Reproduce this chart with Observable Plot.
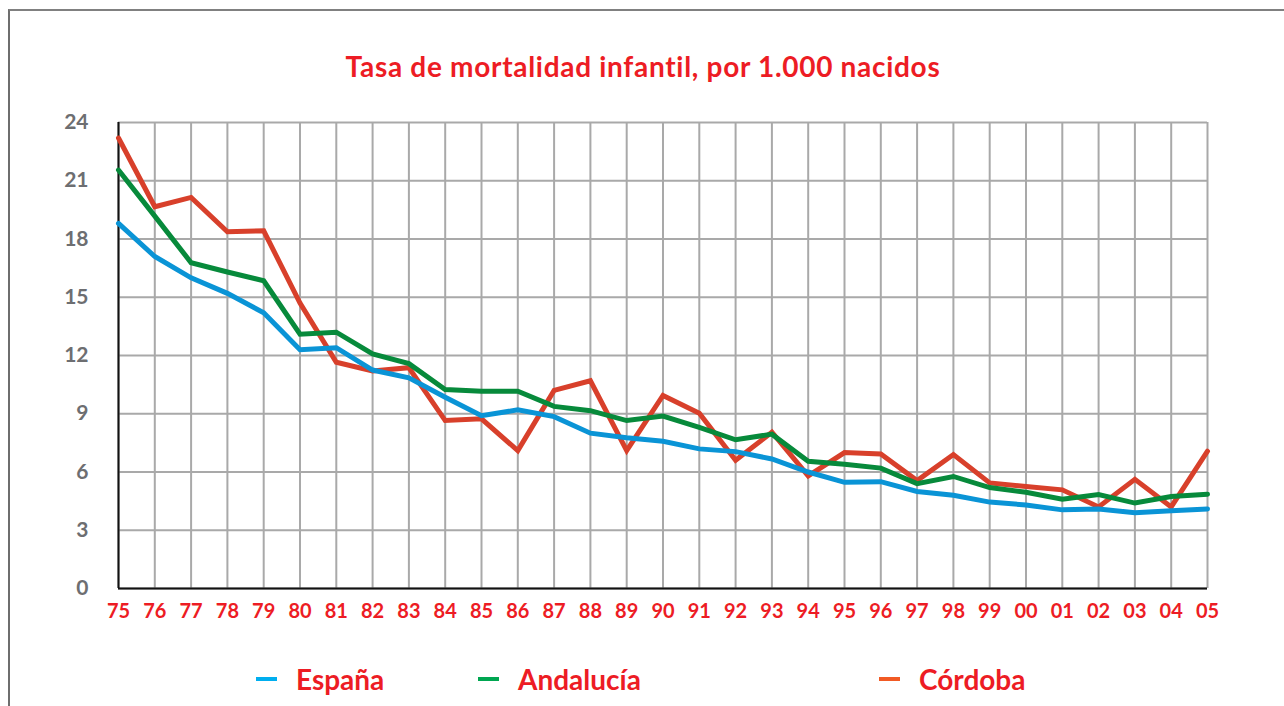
<!DOCTYPE html>
<html>
<head>
<meta charset="utf-8">
<script src="https://cdn.jsdelivr.net/npm/d3@7"></script>
<script src="https://cdn.jsdelivr.net/npm/@observablehq/plot@0.6"></script>
<style>
  html, body { margin: 0; padding: 0; background: #fff; }
  #page { position: relative; width: 1284px; height: 706px; overflow: hidden; font-family: Lato, "Open Sans", sans-serif; font-weight: bold; }
  #frame { position: absolute; left: 8px; top: 9px; width: 1290px; height: 720px; border-top: 2px solid #808080; border-left: 2px solid #6e6e6e; }
  #title { position: absolute; left: 0; width: 1284px; top: 49px; text-align: center; color: #ed1c24; font-size: 28px; letter-spacing: 0.7px; line-height: 34px; padding-left: 1px; }
  #chart { position: absolute; left: 0; top: 100px; }
  .lg { position: absolute; top: 663px; height: 32px; display: flex; align-items: center; color: #ed1c24; font-size: 28px; }
  .sw { width: 21px; height: 4px; margin-right: 19px; }
</style>
</head>
<body>
<div id="page">
  <div id="frame"></div>
  <div id="title">Tasa de mortalidad infantil, por 1.000 nacidos</div>
  <div id="chart"></div>
  <div id="legend"></div>
</div>
<script>
const years = d3.range(1975, 2006);
const yTicks = [0, 3, 6, 9, 12, 15, 18, 21, 24];
const seriesNames = ["España", "Andalucía", "Córdoba"];
const espana = [18.8, 17.1, 16.0, 15.2, 14.2, 12.3, 12.4, 11.25, 10.85, 9.85, 8.9, 9.2, 8.85, 8.0, 7.76, 7.58, 7.19, 7.05, 6.67, 6.0, 5.47, 5.5, 5.0, 4.8, 4.45, 4.3, 4.05, 4.1, 3.9, 4.0, 4.1];
const andalucia = [21.55, 19.18, 16.78, 16.3, 15.85, 13.1, 13.2, 12.08, 11.58, 10.25, 10.16, 10.16, 9.38, 9.16, 8.65, 8.88, 8.3, 7.66, 7.95, 6.55, 6.4, 6.2, 5.4, 5.77, 5.2, 4.96, 4.6, 4.84, 4.4, 4.74, 4.86];
const cordoba = [23.2, 19.66, 20.14, 18.37, 18.42, 14.7, 11.65, 11.2, 11.37, 8.65, 8.74, 7.1, 10.2, 10.7, 7.1, 9.94, 9.03, 6.6, 8.05, 5.8, 7.0, 6.93, 5.56, 6.9, 5.44, 5.25, 5.08, 4.2, 5.62, 4.2, 7.07];
const lineColors = ["#0a94d6", "#078a3b", "#d8402b"];
const swatchColors = ["#00aeef", "#00a651", "#f15a24"];

const seriesValues = [espana, andalucia, cordoba];
const rows = [];
// draw order: Córdoba first, then Andalucía, then España on top
[2, 1, 0].forEach(i => {
  years.forEach((yr, j) => rows.push({series: seriesNames[i], year: yr, value: seriesValues[i][j]}));
});

const chart = Plot.plot({
  width: 1284,
  height: 540,
  marginTop: 22,
  marginBottom: 52,
  marginLeft: 118,
  marginRight: 77,
  style: { fontFamily: "Lato, 'Open Sans', sans-serif", fontWeight: "bold", background: "transparent", overflow: "visible" },
  x: { domain: [1975, 2005] },
  y: { domain: [0, 24] },
  color: { domain: seriesNames, range: lineColors },
  marks: [
    Plot.ruleX(years, { stroke: "#a9a9a9", strokeWidth: 2 }),
    Plot.ruleY(yTicks, { stroke: "#a9a9a9", strokeWidth: 2 }),
    Plot.ruleX([1975], { stroke: "#111", strokeWidth: 2 }),
    Plot.ruleY([0], { stroke: "#111", strokeWidth: 2 }),
    Plot.line(rows, { x: "year", y: "value", z: "series", stroke: "series", strokeWidth: 5, strokeLinejoin: "miter", strokeMiterlimit: 3 }),
    Plot.axisY({ ticks: yTicks, tickSize: 0, tickPadding: 30, fontSize: 21, fill: "#6d6e71", label: null }),
    Plot.axisX({ ticks: years, tickSize: 0, tickPadding: 15, fontSize: 20, fill: "#ed1c24", label: null,
                 tickFormat: d => String(d % 100).padStart(2, "0") })
  ]
});
document.getElementById("chart").appendChild(chart);

const legendLeft = [256, 478, 879];
const legend = document.getElementById("legend");
seriesNames.forEach((name, i) => {
  const item = document.createElement("div");
  item.className = "lg";
  item.style.left = legendLeft[i] + "px";
  const sw = document.createElement("div");
  sw.className = "sw";
  sw.style.background = swatchColors[i];
  const t = document.createElement("span");
  t.textContent = name;
  item.appendChild(sw);
  item.appendChild(t);
  legend.appendChild(item);
});
</script>
</body>
</html>
